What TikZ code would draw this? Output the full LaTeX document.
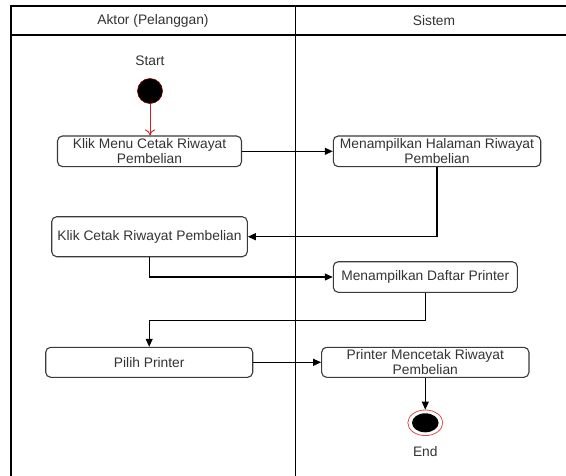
\documentclass[tikz,border=0pt]{standalone}
\usepackage{fontspec}
\setmainfont{Liberation Sans}
\usetikzlibrary{arrows.meta,shapes.geometric}
\definecolor{txt}{HTML}{333333}
\definecolor{boxline}{HTML}{3A3A3A}
\definecolor{flowred}{HTML}{D42020}
\begin{document}
\begin{tikzpicture}[x=1pt,y=-1pt,
  lane/.style={line width=1.4pt,black},
  actbox/.style={draw=boxline,line width=1.1pt,rounded corners=5pt,text=txt,
    align=center,inner sep=0pt,font=\fontsize{13.8}{15}\selectfont},
  label/.style={text=txt,font=\fontsize{13.8}{15}\selectfont,inner sep=0pt},
  flow/.style={line width=1.1pt,black,-{Triangle[length=8pt,width=7pt]}},
  startflow/.style={line width=0.9pt,flowred,-{To[length=6pt,width=10pt]}}]
\useasboundingbox (0,0) rectangle (566,475);
\clip (0,0) rectangle (566,475);

% swimlane frame
\draw[lane] (11,485) -- (11,6) -- (580,6);
\draw[lane] (11,35) -- (580,35);
\draw[lane] (295.5,6) -- (295.5,485);
\node[label] (laneA) at (153,21) {Aktor (Pelanggan)};
\node[label] (laneB) at (434,21) {Sistem};

% initial node
\node[label] (starttxt) at (150,61) {Start};
\node[circle,fill=black,draw=red!45!black,line width=0.6pt,minimum size=25pt,inner sep=0pt] (start) at (150,91) {};

% activities
\node[actbox,minimum width=184pt,minimum height=30.7pt] (b1) at (149.5,151.3) {Klik Menu Cetak Riwayat\\Pembelian};
\node[actbox,minimum width=207.4pt,minimum height=30.7pt] (b3) at (437,151.3) {Menampilkan Halaman Riwayat\\Pembelian};
\node[actbox,minimum width=195.6pt,minimum height=40pt] (b2) at (149.5,236.7) {Klik Cetak Riwayat Pembelian};
\node[actbox,minimum width=184pt,minimum height=30.6pt] (b4) at (425.3,277) {Menampilkan Daftar Printer};
\node[actbox,minimum width=207pt,minimum height=30pt] (b5) at (149.2,362.3) {Pilih Printer};
\node[actbox,minimum width=207.3pt,minimum height=30pt] (b6) at (425.3,362.3) {Printer Mencetak Riwayat\\Pembelian};

% final node
\node[ellipse,draw=flowred!80,line width=0.8pt,fill=white,minimum width=35pt,minimum height=25.6pt,inner sep=0pt] (end) at (425.3,422.8) {};
\fill[black] (end.center) ellipse [x radius=13.3pt,y radius=9.5pt];
\node[label] (endtxt) at (425.3,451.7) {End};

% control flow
\draw[startflow] (start.south) -- (start.south |- b1.north);
\draw[flow] (b1.east) -- (b3.west);
\draw[flow] (b3.south) |- (b2.east);
\draw[flow] (b2.south) |- (b4.west);
\draw[flow] (b4.south) -- ++(0,27.3) -| (b5.north);
\draw[flow] (b5.east) -- (b6.west);
\draw[flow] (b6.south) -- (end.north);
\end{tikzpicture}
\end{document}
